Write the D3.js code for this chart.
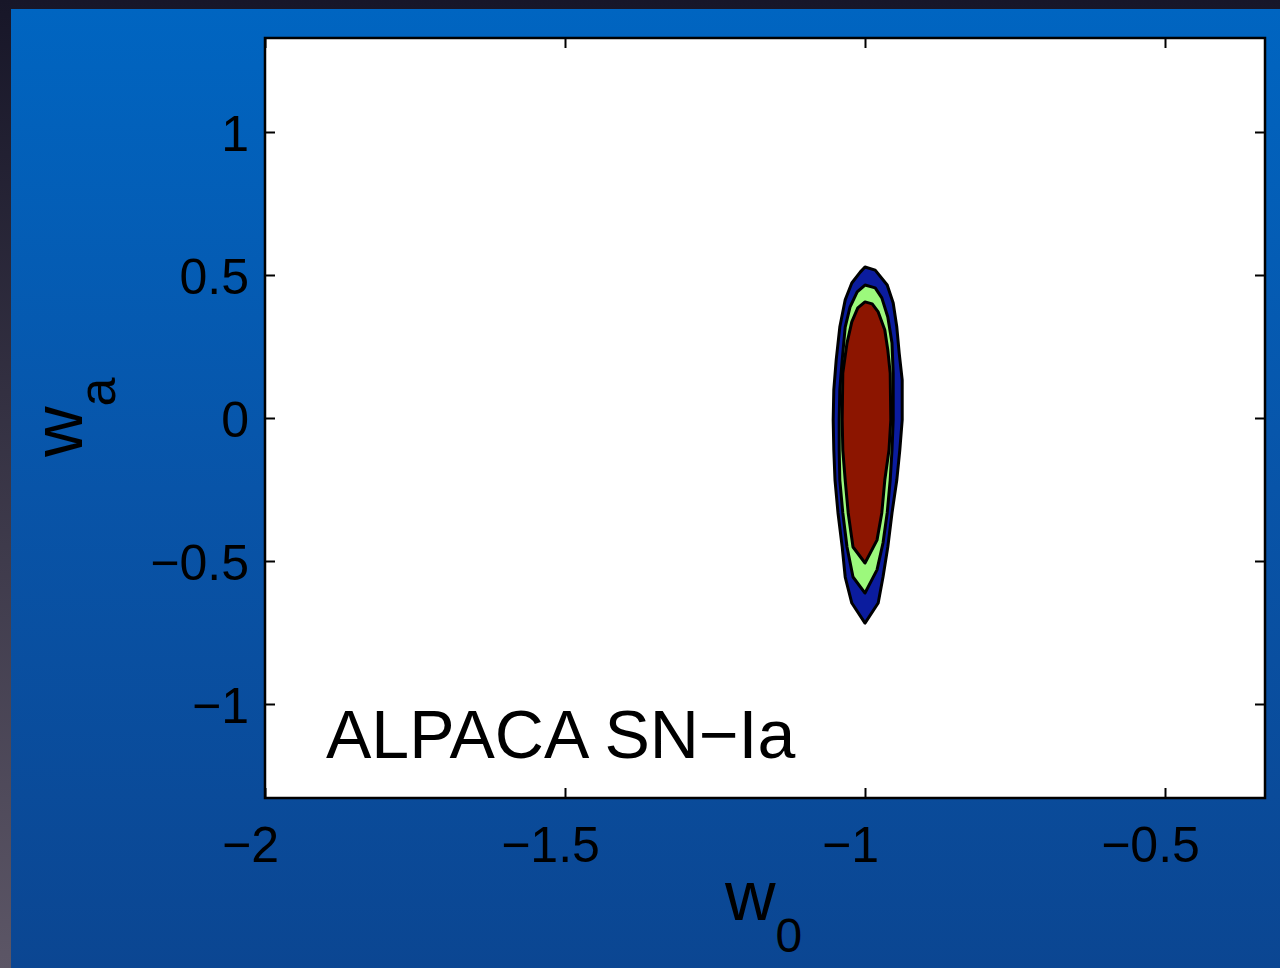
<!DOCTYPE html>
<html>
<head>
<meta charset="utf-8">
<script src="https://cdn.jsdelivr.net/npm/d3@7"></script>
<style>
  html, body { margin: 0; padding: 0; background: #1a1a2c; }
  svg { display: block; font-family: "Liberation Sans", Arial, Helvetica, sans-serif; }
</style>
</head>
<body>
<div id="chart"></div>
<script>
// ticks of the axes
var xTicks = [-2, -1.5, -1, -0.5];
var yTicks = [-1, -0.5, 0, 0.5, 1];

// contours [w0, wa]
var outer95 = [
  [-1.000, 0.528], [-0.983, 0.517], [-0.963, 0.465], [-0.953, 0.402], [-0.947, 0.318],
  [-0.943, 0.227], [-0.938, 0.133], [-0.938, -0.007], [-0.942, -0.112], [-0.947, -0.217],
  [-0.955, -0.332], [-0.962, -0.451], [-0.970, -0.556], [-0.978, -0.647], [-1.000, -0.717],
  [-1.022, -0.647], [-1.033, -0.556], [-1.038, -0.451], [-1.045, -0.332], [-1.050, -0.217],
  [-1.052, -0.112], [-1.053, -0.007], [-1.052, 0.098], [-1.048, 0.203], [-1.042, 0.318],
  [-1.033, 0.413], [-1.022, 0.472], [-1.008, 0.510]
];
var mid90 = [
  [-1.000, 0.465], [-0.983, 0.455], [-0.972, 0.420], [-0.962, 0.353], [-0.955, 0.262],
  [-0.953, 0.157], [-0.953, -0.007], [-0.955, -0.112], [-0.958, -0.217], [-0.963, -0.332],
  [-0.970, -0.437], [-0.980, -0.531], [-1.000, -0.612], [-1.020, -0.556], [-1.030, -0.451],
  [-1.037, -0.332], [-1.042, -0.217], [-1.043, -0.112], [-1.043, -0.007], [-1.042, 0.098],
  [-1.038, 0.203], [-1.033, 0.318], [-1.025, 0.388], [-1.013, 0.441]
];
var inner68 = [
  [-1.000, 0.406], [-0.988, 0.399], [-0.978, 0.371], [-0.967, 0.308], [-0.962, 0.238],
  [-0.958, 0.157], [-0.957, -0.007], [-0.960, -0.112], [-0.967, -0.217], [-0.972, -0.332],
  [-0.980, -0.427], [-1.000, -0.507], [-1.020, -0.451], [-1.028, -0.332], [-1.033, -0.217],
  [-1.037, -0.112], [-1.038, -0.007], [-1.037, 0.157], [-1.030, 0.262], [-1.022, 0.336],
  [-1.012, 0.385]
];
var contours = [
  {pts: outer95, color: "#0b1c9e"},
  {pts: mid90, color: "#9cf97c"},
  {pts: inner68, color: "#8c1500"}
];

var W = 1280, H = 968;
var box = {left: 265, right: 1265, top: 38, bottom: 798};

var svg = d3.select("#chart").append("svg")
  .attr("width", W).attr("height", H);

// fondo
var defs = svg.append("defs");
var gDark = defs.append("linearGradient").attr("id", "dark")
  .attr("x1", 0).attr("y1", 0).attr("x2", 0).attr("y2", 1);
gDark.append("stop").attr("offset", "0%").attr("stop-color", "#171628");
gDark.append("stop").attr("offset", "100%").attr("stop-color", "#5c5666");
var gBlue = defs.append("linearGradient").attr("id", "blue")
  .attr("x1", 0).attr("y1", 0).attr("x2", 0).attr("y2", 1);
gBlue.append("stop").attr("offset", "0%").attr("stop-color", "#0065c1");
gBlue.append("stop").attr("offset", "50%").attr("stop-color", "#0854a8");
gBlue.append("stop").attr("offset", "100%").attr("stop-color", "#0b4692");

svg.append("rect").attr("width", W).attr("height", H).attr("fill", "url(#dark)");
svg.append("rect").attr("x", 11).attr("y", 9).attr("width", W - 11).attr("height", H - 9)
  .attr("fill", "url(#blue)");

// escalas
var x = d3.scaleLinear().domain([-2, -2 + 1000 / 600]).range([box.left, box.right]);
var y = d3.scaleLinear().domain([-380 / 286, 380 / 286]).range([box.bottom, box.top]);

svg.append("rect")
  .attr("x", box.left).attr("y", box.top)
  .attr("width", box.right - box.left).attr("height", box.bottom - box.top)
  .attr("fill", "#fff");

// contornos
var line = d3.line()
  .x(function(d) { return x(d[0]); })
  .y(function(d) { return y(d[1]); })
  .curve(d3.curveLinearClosed);

svg.append("g").selectAll("path")
  .data(contours)
  .enter().append("path")
  .attr("d", function(d) { return line(d.pts); })
  .attr("fill", function(d) { return d.color; })
  .attr("stroke", "#000")
  .attr("stroke-width", 3)
  .attr("stroke-linejoin", "round");

// ejes
var fmt = d3.format("~g");
var tickLen = 10;

var xAxis = svg.append("g")
  .attr("transform", "translate(0," + box.bottom + ")")
  .call(d3.axisBottom(x).tickValues(xTicks).tickSize(-tickLen).tickFormat(fmt));
xAxis.selectAll("text")
  .attr("y", 64).attr("dy", 0).attr("dx", -15)
  .attr("font-size", 50);

svg.append("g")
  .attr("transform", "translate(0," + box.top + ")")
  .call(d3.axisTop(x).tickValues(xTicks).tickSize(-tickLen).tickFormat(""));

var yAxis = svg.append("g")
  .attr("transform", "translate(" + box.left + ",0)")
  .call(d3.axisLeft(y).tickValues(yTicks).tickSize(-tickLen).tickFormat(fmt));
yAxis.selectAll("text")
  .attr("x", -16).attr("dy", 18)
  .attr("font-size", 50);

svg.append("g")
  .attr("transform", "translate(" + box.right + ",0)")
  .call(d3.axisRight(y).tickValues(yTicks).tickSize(-tickLen).tickFormat(""));

svg.selectAll(".domain").remove();
svg.selectAll(".tick line").attr("stroke", "#000").attr("stroke-width", 2);
svg.selectAll(".tick text").attr("fill", "#000").attr("font-family", null);

// marco
svg.append("rect")
  .attr("x", box.left).attr("y", box.top)
  .attr("width", box.right - box.left).attr("height", box.bottom - box.top)
  .attr("fill", "none").attr("stroke", "#000").attr("stroke-width", 2.5);

// etiqueta interior
svg.append("text")
  .attr("x", 326).attr("y", 758)
  .attr("font-size", 68)
  .attr("fill", "#000")
  .text("ALPACA SN\u2212Ia");

// titulos de los ejes
var xl = svg.append("text")
  .attr("x", 725).attr("y", 920)
  .attr("font-size", 70).attr("fill", "#000");
xl.append("tspan").text("w");
xl.append("tspan").attr("dy", 32).attr("font-size", 48).text("0");

var yl = svg.append("text")
  .attr("transform", "translate(82,457) rotate(-90)")
  .attr("font-size", 70).attr("fill", "#000");
yl.append("tspan").text("w");
yl.append("tspan").attr("dy", 33).attr("font-size", 52).text("a");
</script>
</body>
</html>
